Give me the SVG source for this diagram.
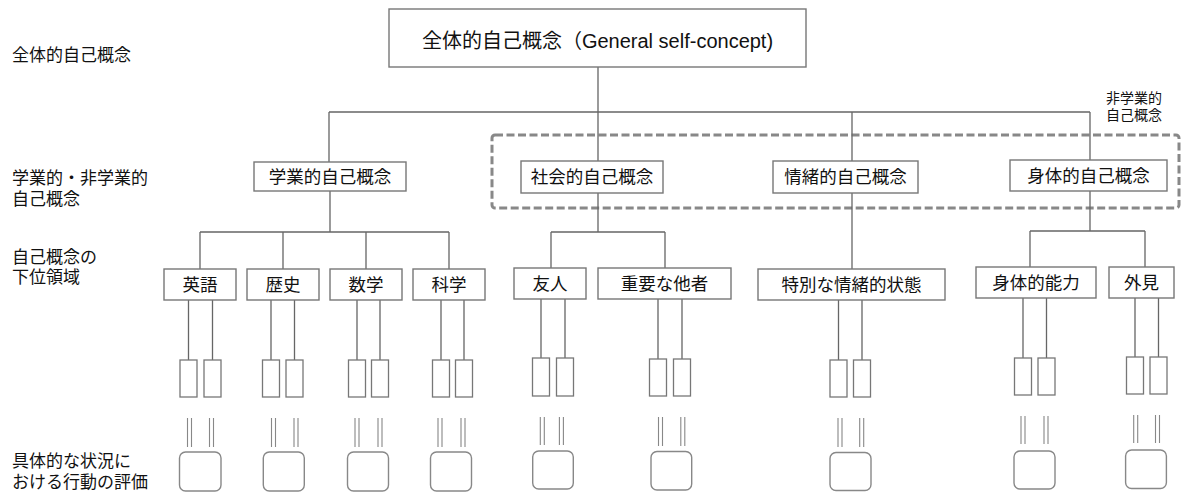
<svg xmlns="http://www.w3.org/2000/svg" width="1182" height="492" viewBox="0 0 1182 492">
<style>
text{font-family:"Liberation Sans","Noto Sans CJK JP",sans-serif;fill:#111;dominant-baseline:central}
.box{fill:#fff;stroke:#777;stroke-width:1.4}
.sub{fill:#fff;stroke:#777;stroke-width:1.3}
.rb{fill:#fff;stroke:#888;stroke-width:1.4}
.ln{fill:none;stroke:#666;stroke-width:1.3}
.dl{fill:none;stroke:#888;stroke-width:1.1}
.c{text-anchor:middle}
.t1{font-size:20px}
.t2{font-size:17.5px}
.lbl{font-size:17px}
.sm{font-size:14px}
</style>
<g id="level-labels">
<text class="lbl" x="12" y="55">全体的自己概念</text>
<text class="lbl" x="12" y="178">学業的・非学業的</text>
<text class="lbl" x="12" y="199">自己概念</text>
<text class="lbl" x="12" y="257">自己概念の</text>
<text class="lbl" x="12" y="277">下位領域</text>
<text class="lbl" x="12" y="461">具体的な状況に</text>
<text class="lbl" x="12" y="482">おける行動の評価</text>
</g>
<g id="nonacademic-group">
<rect x="492" y="135" width="687" height="73" rx="3" fill="none" stroke="#888" stroke-width="3" stroke-dasharray="8 3.5"/>
<text class="sm c" x="1134" y="98">非学業的</text>
<text class="sm c" x="1134" y="115">自己概念</text>
</g>
<g id="connectors">
<path class="ln" d="M598,67V161M329,112H1090M329,112V162M852,112V161M1090,112V161"/>
<path class="ln" d="M330,191V232M200,232H449M200,232V269M283,232V269M366,232V269M449,232V269"/>
<path class="ln" d="M598,193V232M551,232H665M551,232V268M665,232V268"/>
<path class="ln" d="M852,193V269"/>
<path class="ln" d="M1090,191V231M1030,231H1145M1030,231V267M1145,231V267"/>
<path class="ln" d="M188.5,300V360M212.5,300V360M271,300V360M294.5,300V360M357,300V360M380,300V360M441,300V360M464,300V360M541,299V358M565,299V358M658,299V359M682,299V359M838.5,300V360M862,300V360M1023,298V358M1046.5,298V358M1135,298V357M1158.5,298V357"/>
<path class="dl" d="M187.5,418V447M191.5,418V447M209.5,418V447M213.5,418V447M271.5,418V447M275.5,418V447M294,418V447M298,418V447M355,418V447M359,418V447M378,418V447M382,418V447M438,418V447M442,418V447M461,418V447M465,418V447M540.3,417V445M544.3,417V445M559.4,417V445M563.4,417V445M658.5,417V446M662.5,417V446M680.8,417V446M684.8,417V446M838,418V447M842,418V447M859.7,418V447M863.7,418V447M1021,416V444M1025,416V444M1044,416V444M1048,416V444M1133.7,415V443M1137.7,415V443M1155.5,415V443M1159.5,415V443"/>
</g>
<g id="general"><rect class="box" x="389" y="9" width="417" height="58"/><text class="t1 c" x="597.5" y="41">全体的自己概念（General self-concept)</text></g>
<g id="academic"><rect class="box" x="254" y="162" width="152" height="29"/><text class="t2 c" x="330" y="177">学業的自己概念</text></g>
<g id="social"><rect class="box" x="521" y="161" width="142" height="32"/><text class="t2 c" x="592" y="177">社会的自己概念</text></g>
<g id="emotional"><rect class="box" x="773" y="161" width="145" height="32"/><text class="t2 c" x="845.5" y="177">情緒的自己概念</text></g>
<g id="physical"><rect class="box" x="1010" y="160" width="157" height="31"/><text class="t2 c" x="1088.5" y="176">身体的自己概念</text></g>
<g id="english"><rect class="box" x="164" y="269" width="72" height="31"/><text class="t2 c" x="200" y="285">英語</text></g>
<g id="history"><rect class="box" x="247" y="269" width="72" height="31"/><text class="t2 c" x="283" y="285">歴史</text></g>
<g id="math"><rect class="box" x="330" y="269" width="72" height="31"/><text class="t2 c" x="366" y="285">数学</text></g>
<g id="science"><rect class="box" x="413" y="269" width="72" height="31"/><text class="t2 c" x="449" y="285">科学</text></g>
<g id="friends"><rect class="box" x="514" y="268" width="72" height="31"/><text class="t2 c" x="550" y="284">友人</text></g>
<g id="others"><rect class="box" x="598" y="268" width="133" height="31"/><text class="t2 c" x="664.5" y="284">重要な他者</text></g>
<g id="emotional-states"><rect class="box" x="758" y="269" width="187" height="31"/><text class="t2 c" x="851.5" y="285">特別な情緒的状態</text></g>
<g id="physical-ability"><rect class="box" x="976" y="267" width="120" height="31"/><text class="t2 c" x="1036" y="283">身体的能力</text></g>
<g id="appearance"><rect class="box" x="1109" y="267" width="65" height="31"/><text class="t2 c" x="1141.5" y="283">外見</text></g>
<g id="sub-domains">
<rect class="sub" x="180" y="360" width="17" height="37"/><rect class="sub" x="204" y="360" width="17" height="37"/>
<rect class="sub" x="262.5" y="360" width="17" height="37"/><rect class="sub" x="286" y="360" width="17" height="37"/>
<rect class="sub" x="348.5" y="360" width="17" height="37"/><rect class="sub" x="371.5" y="360" width="17" height="37"/>
<rect class="sub" x="432.5" y="360" width="17" height="37"/><rect class="sub" x="455.5" y="360" width="17" height="37"/>
<rect class="sub" x="532.5" y="358" width="17" height="38"/><rect class="sub" x="556.5" y="358" width="17" height="38"/>
<rect class="sub" x="649.5" y="359" width="17" height="37"/><rect class="sub" x="673.5" y="359" width="17" height="37"/>
<rect class="sub" x="830" y="360" width="17" height="37"/><rect class="sub" x="853.5" y="360" width="17" height="37"/>
<rect class="sub" x="1014.5" y="358" width="17" height="37"/><rect class="sub" x="1038" y="358" width="17" height="37"/>
<rect class="sub" x="1126.5" y="357" width="17" height="37"/><rect class="sub" x="1150" y="357" width="17" height="37"/>
</g>
<g id="behaviour-evaluations">
<rect class="rb" x="179.5" y="452" width="41.5" height="39" rx="6"/>
<rect class="rb" x="263.3" y="452" width="41" height="39" rx="6"/>
<rect class="rb" x="347.5" y="452" width="41" height="39" rx="6"/>
<rect class="rb" x="430.5" y="452" width="41" height="39" rx="6"/>
<rect class="rb" x="532.7" y="451" width="40.6" height="38" rx="6"/>
<rect class="rb" x="651" y="451.5" width="40.7" height="38.5" rx="6"/>
<rect class="rb" x="830" y="452.5" width="41" height="38" rx="6"/>
<rect class="rb" x="1014" y="451" width="41" height="38" rx="6"/>
<rect class="rb" x="1125.6" y="450" width="40.8" height="38.5" rx="6"/>
</g>
</svg>
